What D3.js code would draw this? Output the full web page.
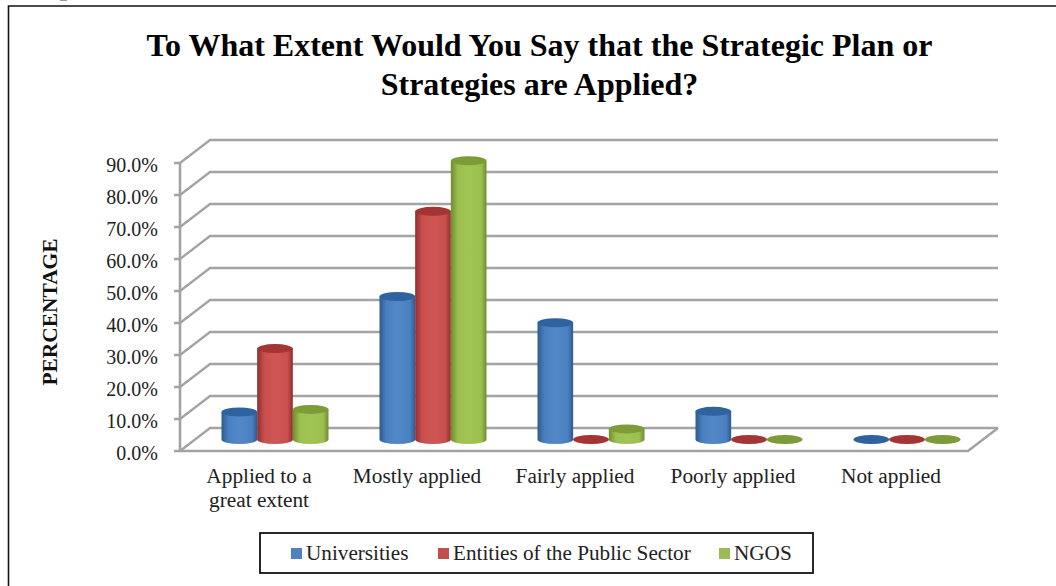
<!DOCTYPE html>
<html><head><meta charset="utf-8">
<script src="https://cdn.jsdelivr.net/npm/d3@7"></script>
<style>html,body{margin:0;padding:0;background:#fff}svg{display:block}text{font-family:"Liberation Serif",serif;fill:#111}</style>
</head><body><svg id="c" width="1056" height="586"></svg>
<script>
const categories = ["Applied to a great extent","Mostly applied","Fairly applied","Poorly applied","Not applied"];
const seriesNames = ["Universities","Entities of the Public Sector","NGOS"];
const universities = [8.6,44.7,36.5,8.8,0];
const publicSector = [28.4,71.3,0,0,0];
const ngos = [9.4,87.1,3.3,0,0];
const seriesValues = [universities,publicSector,ngos];
const tickValues = [0,10,20,30,40,50,60,70,80,90];
const titleLines = ["To What Extent Would You Say that the Strategic Plan or","Strategies are Applied?"];
const colors = [
 {mid:"#4a80c0",edge:"#2c5a92",light:"#5288c8",top:"#2f649f",sw:"#4f81bd"},
 {mid:"#c9504e",edge:"#8f2e2c",light:"#cf5654",top:"#a53533",sw:"#c0504d"},
 {mid:"#9cc04f",edge:"#6f8c30",light:"#a1c554",top:"#7d9c39",sw:"#9bbb59"}];

const svg = d3.select("#c");
const defs = svg.append("defs");
defs.append("filter").attr("id","soft").append("feGaussianBlur").attr("stdDeviation",0.45);
colors.forEach((c,i)=>{
  const g = defs.append("linearGradient").attr("id","cyl"+i);
  [[0,c.edge],[.2,c.mid],[.5,c.light],[.85,c.mid],[1,c.edge]].forEach(([o,k])=>g.append("stop").attr("offset",o).attr("stop-color",k));
});

svg.append("path").attr("d","M1056,6H8.5V586").attr("fill","none").attr("stroke","#111").attr("stroke-width",1.6);
svg.append("rect").attr("x",60).attr("y",0).attr("width",7).attr("height",1).attr("fill","#999");

const x = d3.scaleBand().domain(categories).range([180,970]);
const y = d3.scaleLinear().domain([0,90]).range([451,163]);
const dx = 30, dy = 23;
const grid = svg.append("g").attr("filter","url(#soft)");
const gray = "#a3a3a3";
grid.selectAll(".h").data(tickValues).join("path").attr("class","h")
  .attr("d",v=>`M174,${y(v)}H180L${180+dx},${y(v)-dy}H998`)
  .attr("fill","none").attr("stroke",gray).attr("stroke-width",2.3);
grid.append("path").attr("d",`M180,${y(0)}H968L998,${y(0)-dy}`).attr("fill","none").attr("stroke",gray).attr("stroke-width",2.6);
grid.append("line").attr("x1",180).attr("x2",180).attr("y1",y(90)).attr("y2",y(0)).attr("stroke",gray).attr("stroke-width",2.6);

const yAxis = d3.axisLeft(y).tickValues(tickValues).tickFormat(v=>v.toFixed(1)+"%").tickSize(0).tickPadding(0);
const ax = svg.append("g").attr("transform","translate(158,2)").call(yAxis);
ax.select(".domain").remove();
ax.selectAll("text").attr("font-size",20).attr("font-family","Liberation Serif").style("fill","#222");

const inner = d3.scaleBand().domain(d3.range(3)).range([0,107]);
const baseOff = 11.5, ry = 4.5, rx = inner.bandwidth()/2;
const marks = svg.append("g").attr("filter","url(#soft)");
categories.forEach((cat,ci)=>{
  seriesValues.forEach((vals,si)=>{
    const g = marks.append("g");
    const cx = x(cat)+ (x.bandwidth()-107)/2 + 16 + inner(si) + rx;
    const by = y(0)-baseOff, ty = y(vals[ci])-baseOff;
    if(vals[ci]>0){
      g.append("path").attr("d",`M${cx-rx},${ty}V${by}A${rx},${ry} 0 0 0 ${cx+rx},${by}V${ty}Z`).attr("fill",`url(#cyl${si})`);
    }
    g.append("ellipse").attr("cx",cx).attr("cy",ty).attr("rx",rx).attr("ry",ry).attr("fill",colors[si].top);
  });
});

const tick = svg.append("g");
categories.forEach(c=>{
  const cx = x(c)+x.bandwidth()/2;
  const lines = c==="Applied to a great extent"?["Applied to a","great extent"]:[c];
  lines.forEach((l,i)=>tick.append("text").attr("x",cx).attr("y",483+i*24).attr("text-anchor","middle").attr("font-size",21.3).style("fill","#222").text(l));
});

svg.append("text").attr("transform","translate(57,312) rotate(-90)").attr("text-anchor","middle").attr("font-size",21.4).attr("font-weight","bold").text("PERCENTAGE");
titleLines.forEach((t,i)=>svg.append("text").attr("x",539.5).attr("y",56+i*39).attr("text-anchor","middle").attr("font-size",32).attr("font-weight","bold").style("fill","#000").text(t));

svg.append("rect").attr("x",260).attr("y",533).attr("width",553).attr("height",40).attr("fill","#fff").attr("stroke","#111").attr("stroke-width",1.8);
const lx = d3.scaleOrdinal().domain(seriesNames).range([291,438,719]);
seriesNames.forEach((n,i)=>{
  svg.append("rect").attr("x",lx(n)).attr("y",548).attr("width",11).attr("height",11).attr("fill",colors[i].sw);
  svg.append("text").attr("x",lx(n)+15).attr("y",560).attr("font-size",21.2).style("fill","#222").text(n);
});
</script></body></html>
